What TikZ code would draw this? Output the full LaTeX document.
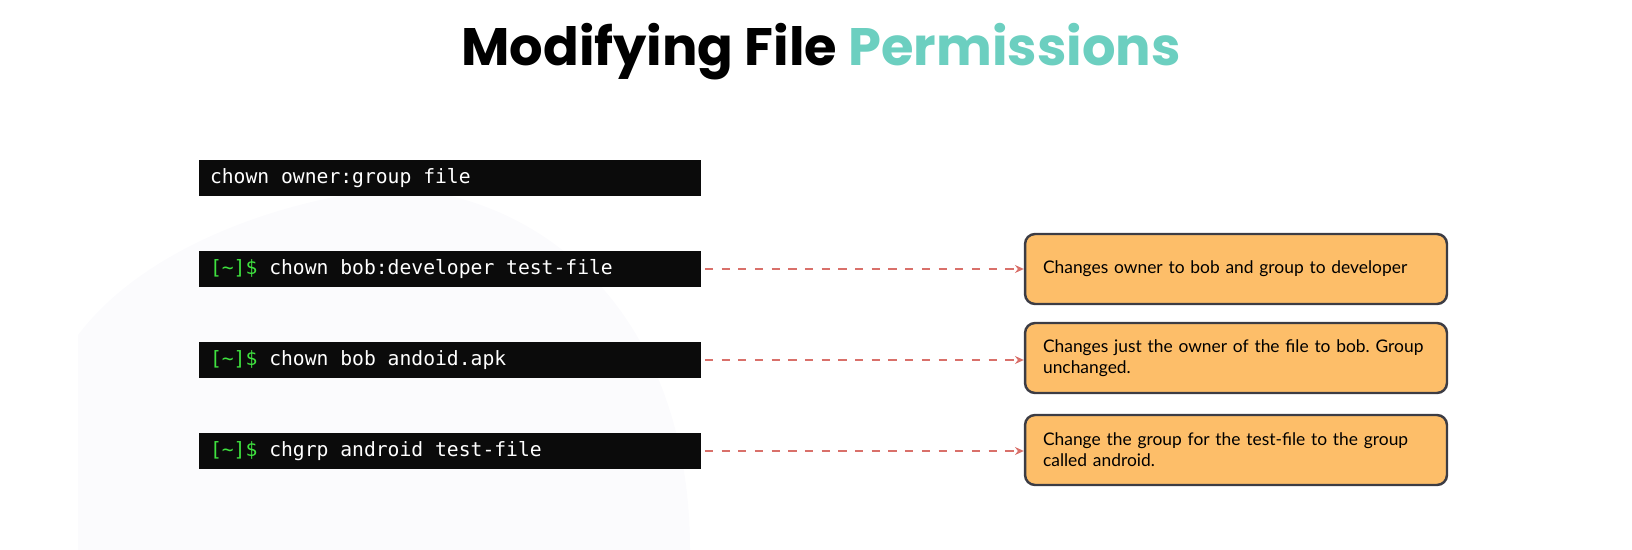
\documentclass[tikz,border=0pt]{standalone}
\usepackage{fontspec}
\setmainfont{Lato}
\setmonofont{DejaVu Sans Mono}
\newfontfamily\titlefont{Poppins}
\usetikzlibrary{positioning,arrows.meta}

\definecolor{permteal}{HTML}{6CCFC0}
\definecolor{cmdblack}{HTML}{0B0B0B}
\definecolor{promptgreen}{HTML}{3FE23F}
\definecolor{descfill}{HTML}{FDBE69}
\definecolor{descline}{HTML}{3C3C44}
\definecolor{linkred}{HTML}{D9706A}
\definecolor{backdrop}{HTML}{FBFBFD}

\newcommand{\prompt}{\textcolor{promptgreen}{[\textasciitilde]\$}}

\tikzset{
  cmdbox/.style={fill=cmdblack, text=white, inner xsep=0.22cm, inner ysep=0pt,
    text width=9.6cm, minimum height=0.72cm, align=left,
    font=\ttfamily\fontsize{11.2}{13}\selectfont,
    execute at begin node={\spaceskip=0.602em\relax}},
  descbox/.style={fill=descfill, draw=descline, line width=1.4pt, rounded corners=0.2cm,
    inner xsep=0.36cm, inner ysep=0pt, text width=7.72cm, minimum height=1.4cm,
    align=left, font=\fontsize{9.9}{11.8}\selectfont,
    execute at begin node={\frenchspacing}},
  linkarrow/.style={linkred, line width=1.3pt, dash pattern=on 4.7pt off 4.8pt,
    shorten <=2pt, -{Stealth[length=5pt,width=4.5pt]}}
}

\begin{document}
\begin{tikzpicture}[x=0.02cm, y=-0.02cm]
  \useasboundingbox (0,0) rectangle (1632,550);

  % Faint backdrop
  \fill[backdrop] (78,550) -- (78,335) .. controls (150,240) and (300,195) .. (400,188)
    .. controls (560,200) and (690,330) .. (690,550) -- cycle;

  % Title
  \node[font=\titlefont\bfseries\fontsize{30}{36}\selectfont] (title) at (821,52)
    {Modifying File \textcolor{permteal}{Permissions}};

  % Syntax line
  \node[cmdbox] (syntax) at (450,178) {chown owner:group file};

  % Example commands
  \foreach \n/\y/\cmd in {1/269/{chown bob:developer test-file},
                          2/360/{chown bob andoid.apk},
                          3/451/{chgrp android test-file}}
    \node[cmdbox] (cmd\n) at (450,\y) {\prompt\ \cmd};

  % Explanations
  \node[descbox] (desc1) at (1236,269) {Changes owner to bob and group to developer};
  \node[descbox] (desc2) at (1236,358) {Changes just the owner of the file to bob. Group unchanged.};
  \node[descbox] (desc3) at (1236,450) {Change the group for the test-file to the group called android.};

  % Dashed links
  \foreach \n in {1,2,3}
    \draw[linkarrow] (cmd\n.east) -- (cmd\n.east -| desc\n.west);
\end{tikzpicture}
\end{document}
